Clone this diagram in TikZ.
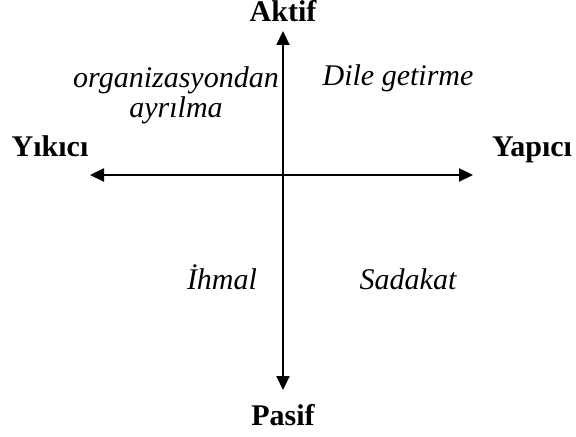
\documentclass[tikz,border=0pt]{standalone}
\usepackage{fontspec}
\setmainfont{Liberation Serif}
\usetikzlibrary{arrows.meta}
\begin{document}
\begin{tikzpicture}[
  x=0.5pt, y=-0.5pt,
  font=\fontsize{15}{13.5}\selectfont,
  axis/.style={{Triangle[length=7pt,width=6.5pt]}-{Triangle[length=7pt,width=6.5pt]}, line width=1.1pt},
  pole/.style={font=\fontsize{15}{18}\selectfont\bfseries, anchor=base},
  quad/.style={font=\fontsize{15}{13.5}\selectfont\itshape, anchor=base, align=center}
]
\useasboundingbox (0,0) rectangle (576,437);
\coordinate (top) at (283,31);
\coordinate (bottom) at (283,390);
\coordinate (left) at (90,175);
\coordinate (right) at (473,175);
\draw[axis] (top) -- (bottom);
\draw[axis] (left) -- (right);
\node[pole] (aktif) at (283,22) {Aktif};
\node[pole] (pasif) at (283,425) {Pasif};
\node[pole] (yikici) at (50,157) {Yıkıcı};
\node[pole] (yapici) at (532,157) {Yapıcı};
\node[quad, anchor=north] (ayrilma) at (176,60) {organizasyondan\\ayrılma};
\node[quad] (dile) at (398,86) {Dile getirme};
\node[quad] (ihmal) at (222,290) {İhmal};
\node[quad] (sadakat) at (408,290) {Sadakat};
\end{tikzpicture}
\end{document}
